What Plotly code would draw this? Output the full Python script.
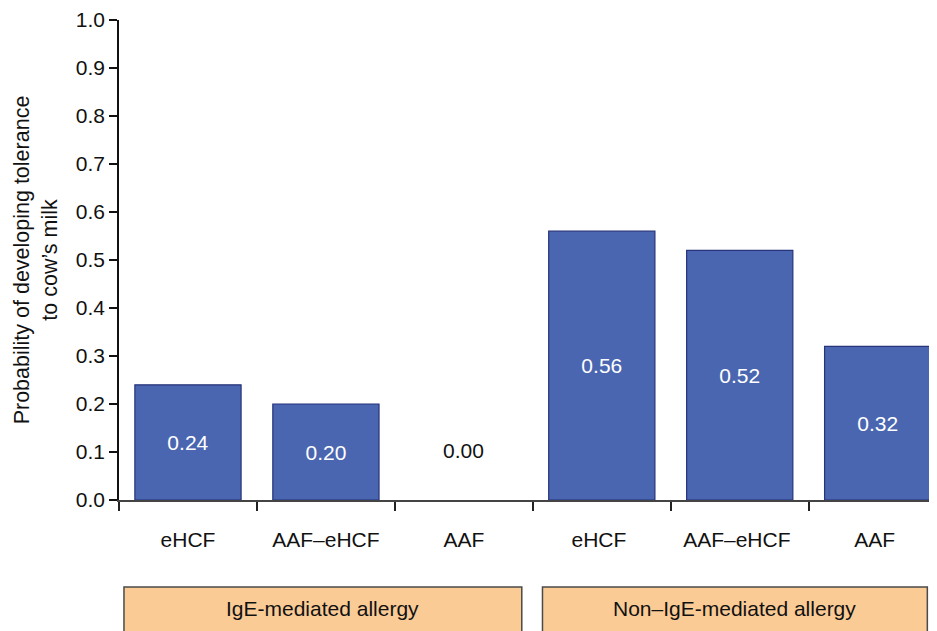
import plotly.graph_objects as go

categories = ["eHCF", "AAF\u2013eHCF", "AAF", "eHCF ", "AAF\u2013eHCF ", "AAF "]
values = [0.24, 0.20, 0.00, 0.56, 0.52, 0.32]
labels = ["0.24", "0.20", "0.00", "0.56", "0.52", "0.32"]
groups = ["IgE-mediated allergy", "Non\u2013IgE-mediated allergy"]
y_ticks = [0.0, 0.1, 0.2, 0.3, 0.4, 0.5, 0.6, 0.7, 0.8, 0.9, 1.0]

FONT = "Liberation Sans, Arial, sans-serif"
BAR = "#4A66B0"
EDGE = "#27337A"
FS = 21

fig = go.Figure()
fig.add_trace(go.Bar(
    x=categories, y=values,
    width=0.77,
    marker=dict(color=BAR,
                line=dict(color=EDGE, width=[1.2 if v > 0 else 0 for v in values])),
    text=[l if v > 0 else "" for l, v in zip(labels, values)],
    textposition="inside", insidetextanchor="middle",
    textfont=dict(color="white", size=FS, family=FONT),
    hoverinfo="skip",
))

# label for zero-height bars
for c, v, l in zip(categories, values, labels):
    if v == 0:
        fig.add_annotation(x=c, y=0.104, text=l, showarrow=False,
                           font=dict(size=FS, color="#111", family=FONT))

# group boxes below axis
group_spans = [(-0.464, 2.42), (2.57, 5.36)]
for (x0, x1), g in zip(group_spans, groups):
    fig.add_shape(type="rect", xref="x", yref="paper", x0=x0, x1=x1,
                  y0=-0.181, y1=-0.40, fillcolor="#FBCB96",
                  line=dict(color="#4a4a4a", width=1.5), layer="above")
    fig.add_annotation(xref="x", yref="paper", x=(x0 + x1) / 2, y=-0.226,
                       text=g, showarrow=False, yanchor="middle",
                       font=dict(size=FS, color="#111", family=FONT))

fig.update_layout(
    width=929, height=623,
    margin=dict(l=111, r=0, t=12, b=131),
    paper_bgcolor="white", plot_bgcolor="white",
    showlegend=False,
    font=dict(family=FONT, color="#111"),
    xaxis=dict(
        type="category", range=[-0.5, 5.43], tickson="boundaries",
        ticks="outside", ticklen=9, tickwidth=1.5, tickcolor="#222",
        showline=True, linecolor="#444", linewidth=2,
        showgrid=False, zeroline=False,
        tickfont=dict(size=FS, family=FONT, color="#111"),
        ticklabelstandoff=20,
    ),
    yaxis=dict(
        range=[0, 1.0], tickvals=y_ticks,
        ticktext=[f"{t:.1f}" for t in y_ticks],
        ticks="outside", ticklen=8, tickwidth=1.5, tickcolor="#111",
        showline=True, linecolor="#111", linewidth=1.5,
        showgrid=False, zeroline=False,
        tickfont=dict(size=FS, family=FONT, color="#111"),
        title=dict(text="Probability of developing tolerance<br>to cow\u2019s milk",
                   font=dict(size=21.5, family=FONT, color="#111"), standoff=12),
    ),
)

fig.write_html("out.html")
